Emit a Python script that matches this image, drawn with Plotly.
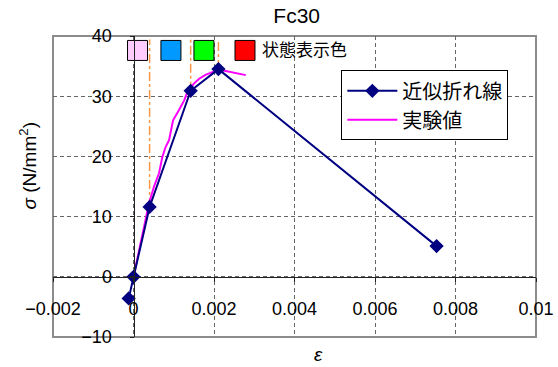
import plotly.graph_objects as go

# ---- data ----
approx_x = [-0.00012, 0.0, 0.0004, 0.00142, 0.00211, 0.00753]
approx_y = [-3.6, 0.0, 11.6, 30.9, 34.5, 5.1]

exp_x = [0.0, 0.000137, 0.000261, 0.000386, 0.00051, 0.000634, 0.000716, 0.0008,
         0.000883, 0.000983, 0.00113, 0.00126, 0.00134, 0.0015, 0.00163, 0.0018,
         0.00196, 0.00211, 0.00229, 0.00254, 0.00279]
exp_y = [0.0, 4.5, 8.3, 12.2, 15.0, 17.2, 19.9, 21.6,
         22.7, 26.0, 27.7, 29.3, 30.7, 32.1, 32.9, 33.6,
         34.0, 34.4, 34.2, 33.8, 33.5]

# state-marker vertical lines (at approx points 3..5), top value
state_x = [0.0004, 0.00142, 0.00211]
state_y = [11.6, 30.9, 34.5]
state_top = 39.4

# colour swatches
swatch_x = [0.0001, 0.00093, 0.00175, 0.00277]
swatch_y = [37.6, 37.6, 37.6, 37.6]
swatch_colors = ["#FFCCFF", "#0099FF", "#00FF00", "#FF0000"]
swatch_label = "状態表示色"
swatch_label_x = 0.00315

x_ticks = [-0.002, 0, 0.002, 0.004, 0.006, 0.008, 0.01]
x_tick_labels = ["−0.002", "0", "0.002", "0.004", "0.006", "0.008", "0.01"]
y_ticks = [-10, 0, 10, 20, 30, 40]
y_tick_labels = ["−10", "0", "10", "20", "30", "40"]

title_text = "Fc30"
series_names = ["近似折れ線", "実験値"]

FONT = "Liberation Sans, Arial, Noto Sans CJK JP, sans-serif"

fig = go.Figure()

# orange dash-dot state lines
for sx, sy in zip(state_x, state_y):
    fig.add_trace(go.Scatter(x=[sx, sx], y=[sy, state_top], mode="lines",
                             line=dict(color="#F79646", width=1.5, dash="dashdot"),
                             showlegend=False, hoverinfo="skip"))

fig.add_trace(go.Scatter(x=exp_x, y=exp_y, mode="lines", name=series_names[1],
                         line=dict(color="#FF00FF", width=2), legendrank=2))
fig.add_trace(go.Scatter(x=approx_x, y=approx_y, mode="lines+markers", name=series_names[0],
                         line=dict(color="#000080", width=2),
                         marker=dict(symbol="diamond", size=11, color="#000080"),
                         legendrank=1))

fig.add_trace(go.Scatter(x=swatch_x, y=swatch_y, mode="markers",
                         marker=dict(symbol="square", size=20, color=swatch_colors,
                                     line=dict(color="black", width=1)),
                         showlegend=False, hoverinfo="skip"))

fig.add_annotation(x=swatch_label_x, y=swatch_y[0], text=swatch_label, showarrow=False,
                   xanchor="left", yanchor="middle",
                   font=dict(family=FONT, size=17, color="black"))

grid_common = dict(showgrid=True, gridcolor="#666666", gridwidth=1, griddash="4px,3px",
                   zeroline=False, showline=True, linecolor="#222222", linewidth=1,
                   ticks="outside", ticklen=4, tickcolor="#222222", automargin=False,
                   tickfont=dict(family=FONT, size=18, color="black"))

fig.update_layout(
    width=558, height=367,
    margin=dict(l=52.7, r=22.3, t=35.5, b=29.7, autoexpand=False),
    paper_bgcolor="white", plot_bgcolor="white",
    font=dict(family=FONT, color="black"),
    title=dict(text=title_text, x=296.7 / 558, xanchor="center", y=1 - 15.5 / 367,
               yanchor="middle", font=dict(family=FONT, size=21, color="black")),
    xaxis=dict(range=[-0.002, 0.01], tickvals=x_ticks, ticktext=x_tick_labels,
               anchor="free", position=0.2, domain=[0, 1], ticklabelstandoff=12,
               **grid_common),
    yaxis=dict(range=[-10, 40], tickvals=y_ticks, ticktext=y_tick_labels,
               anchor="free", position=0.002 / 0.012, domain=[0, 1], ticklabelstandoff=14,
               **grid_common),
    legend=dict(x=0.597, y=0.886, xanchor="left", yanchor="top",
                bgcolor="white", bordercolor="black", borderwidth=1,
                font=dict(family=FONT, size=20, color="black"),
                itemwidth=50),
    showlegend=True,
)

# plot-area border
fig.add_shape(type="rect", xref="paper", yref="paper", x0=0, y0=0, x1=1, y1=1,
              line=dict(color="#8c8c8c", width=2), layer="below")

# axis titles
fig.add_annotation(xref="paper", yref="paper", x=(318 - 52.7) / 483, y=1 - (355 - 35.5) / 301.8,
                   text="<i>ε</i>", showarrow=False, xanchor="center", yanchor="middle",
                   font=dict(family=FONT, size=19, color="black"))
fig.add_annotation(xref="paper", yref="paper", x=(28 - 52.7) / 483, y=1 - (166 - 35.5) / 301.8,
                   text="<i>σ</i> (N/mm<sup>2</sup>)", showarrow=False, textangle=-90,
                   xanchor="center", yanchor="middle",
                   font=dict(family=FONT, size=19, color="black"))

fig.write_html("out.html", config={"displayModeBar": False},
               post_script="document.body.style.margin='0';document.body.style.overflow='hidden';")
